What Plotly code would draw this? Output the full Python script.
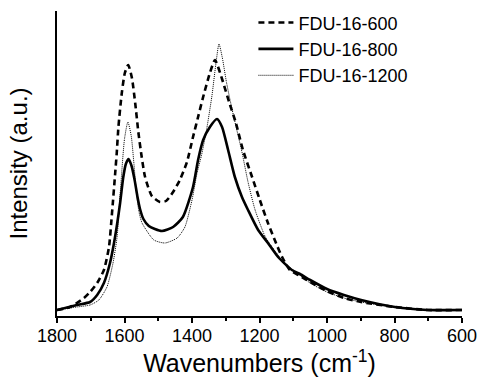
import plotly.graph_objects as go

# FDU-16-600 (dashed)
w600 = [1800, 1761, 1720, 1702, 1681, 1661, 1646, 1637, 1628, 1623, 1618, 1608, 1599, 1589,
        1578, 1568, 1559, 1549, 1539, 1519, 1495, 1477, 1456, 1436, 1415, 1397, 1382, 1367,
        1347, 1332, 1311, 1290, 1270, 1249, 1222, 1199, 1175, 1150, 1133, 1110, 1080, 1050,
        1000, 950, 899, 799, 701, 600]
i600 = [6, 9, 18, 24, 33, 46, 69, 103, 141, 163, 189, 223, 243, 251,
        238, 212, 184, 159, 139, 120, 114, 115, 124, 136, 154, 179, 199, 219,
        243, 256, 237, 214, 193, 166, 139, 116, 93, 72, 59, 46, 40, 34,
        25, 18, 14, 9, 6, 6]

# FDU-16-800 (solid)
w800 = [1800, 1741, 1702, 1681, 1661, 1643, 1628, 1613, 1604, 1596, 1588, 1579, 1570, 1562,
        1554, 1544, 1528, 1510, 1489, 1456, 1427, 1397, 1382, 1367, 1347, 1326, 1311, 1293,
        1273, 1252, 1234, 1204, 1175, 1145, 1104, 1080, 1050, 1000, 950, 899, 799, 701, 600]
i800 = [6, 11, 14, 21, 33, 53, 79, 113, 138, 152, 157, 150, 136, 120,
        107, 97, 90, 87, 85, 89, 99, 129, 156, 176, 189, 197, 189, 166,
        139, 119, 106, 86, 73, 59, 46, 42, 36, 27, 21, 16, 9, 6, 6]

# FDU-16-1200 (dotted)
w1200 = [1800, 1741, 1702, 1676, 1652, 1634, 1622, 1612, 1600, 1590, 1580, 1572, 1565, 1557,
         1548, 1513, 1480, 1444, 1421, 1400, 1385, 1371, 1356, 1341, 1330, 1320, 1310, 1298,
         1284, 1270, 1252, 1234, 1213, 1184, 1163, 1133, 1104, 1050, 1000, 950, 899, 799, 701, 600]
i1200 = [6, 9, 11, 16, 29, 53, 79, 126, 177, 194, 180, 152, 124, 104,
         93, 76, 73, 78, 89, 116, 143, 162, 188, 220, 250, 272, 258, 234,
         211, 190, 164, 134, 106, 80, 69, 56, 47, 33, 24, 18, 14, 9, 6, 6]

x_ticks = [1800, 1600, 1400, 1200, 1000, 800, 600]

FONT = "Liberation Sans, Arial, sans-serif"

fig = go.Figure()
fig.add_trace(go.Scatter(x=w600, y=i600, mode="lines", name="FDU-16-600",
                         line=dict(color="black", width=2.6, dash="6px,4px", shape="spline", smoothing=0.6)))
fig.add_trace(go.Scatter(x=w800, y=i800, mode="lines", name="FDU-16-800",
                         line=dict(color="black", width=2.6, shape="spline", smoothing=0.6)))
fig.add_trace(go.Scatter(x=w1200, y=i1200, mode="lines", name="FDU-16-1200",
                         line=dict(color="black", width=1, dash="1px,1px", shape="spline", smoothing=0.6)))

fig.update_layout(
    width=479, height=385,
    margin=dict(l=57, r=17, t=11, b=69, autoexpand=False),
    paper_bgcolor="white", plot_bgcolor="white",
    font=dict(family=FONT, color="black"),
    showlegend=True,
    legend=dict(x=0.485, y=1.022, xanchor="left", yanchor="top",
                bgcolor="rgba(0,0,0,0)", borderwidth=0,
                font=dict(size=18, family=FONT, color="black"),
                itemwidth=35, tracegroupgap=0),
)
fig.update_xaxes(
    range=[1800, 600], tickvals=x_ticks, ticktext=[str(v) for v in x_ticks],
    showline=True, linecolor="black", linewidth=2,
    ticks="outside", ticklen=5, tickwidth=1.5, tickcolor="black",
    minor=dict(dtick=100, ticks="outside", ticklen=3, tickwidth=1.5, tickcolor="black"),
    showgrid=False, zeroline=False,
    tickfont=dict(size=18, family=FONT, color="black"),
    ticklabelstandoff=-3,
    title=dict(text="Wavenumbers (cm<sup>-1</sup>)", font=dict(size=25, family=FONT, color="black"), standoff=10),
)
fig.update_yaxes(
    range=[0, 305], showline=True, linecolor="black", linewidth=2,
    ticks="", showticklabels=False, showgrid=False, zeroline=False,
    title=dict(text="Intensity (a.u.)", font=dict(size=24, family=FONT, color="black"), standoff=21),
)

fig.write_html("out.html")
